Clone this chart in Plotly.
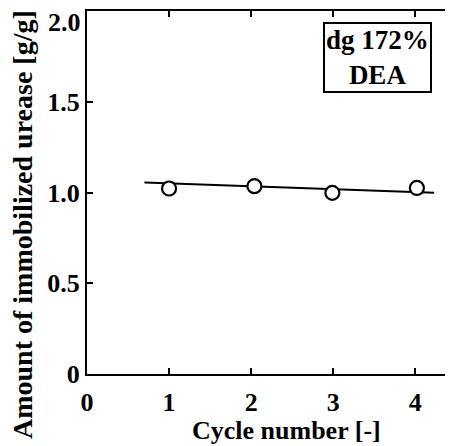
import plotly.graph_objects as go

cycle_x = [1.0, 2.04, 2.99, 4.02]
urease_y = [1.022, 1.035, 0.998, 1.025]
fit_x = [0.7, 4.23]
fit_y = [1.055, 0.998]
x_ticks = [0, 1, 2, 3, 4]
y_ticks = [0, 0.5, 1.0, 1.5, 2.0]
y_tick_labels = ["0", "0.5", "1.0", "1.5", "2.0"]

FONT = "Liberation Serif"
OFF = 8  # page body margin offset

# plot area in page pixels
PX0, PX1, PY0, PY1 = 87, 453, 11, 374
W, H = 453, 446


def paper_x(X):
    return (X - PX0) / (PX1 - PX0)


def paper_y(Y):
    return (PY1 - Y) / (PY1 - PY0)


fig = go.Figure()
fig.add_trace(go.Scatter(x=fit_x, y=fit_y, mode="lines",
                         line=dict(color="black", width=2), showlegend=False))
fig.add_trace(go.Scatter(x=cycle_x, y=urease_y, mode="markers",
                         marker=dict(symbol="circle", size=14, color="white",
                                     line=dict(color="black", width=2.2)),
                         showlegend=False))

tickfont = dict(family=FONT, size=26, color="black", weight="bold")

# the top label sits just below the frame in the reference
axis_labels = y_tick_labels[:-1] + [""]

fig.update_layout(
    width=W, height=H,
    margin=dict(l=PX0 - OFF, r=W - (PX1 - OFF), t=PY0 - OFF, b=H - (PY1 - OFF)),
    paper_bgcolor="white", plot_bgcolor="white",
    font=dict(family=FONT, color="black", size=26),
    xaxis=dict(range=[0, 4.46], tickvals=x_ticks, ticks="inside", ticklen=6,
               tickwidth=2, tickcolor="black", showline=True, linecolor="black",
               linewidth=2, mirror="ticks", showgrid=False, zeroline=False,
               tickfont=tickfont, ticklabelstandoff=4, ticklabeloverflow="allow",
               automargin=False),
    yaxis=dict(range=[0, 2.0], tickvals=y_ticks, ticktext=axis_labels,
               ticks="inside", ticklen=6, tickwidth=2, tickcolor="black",
               showline=True, linecolor="black", linewidth=2, mirror="ticks",
               showgrid=False, zeroline=False, tickfont=tickfont,
               ticklabelstandoff=0, ticklabeloverflow="allow", automargin=False),
    annotations=[
        dict(text="<b>" + y_tick_labels[-1] + "</b>", xref="paper", yref="y",
             x=0, y=y_ticks[-1], xanchor="right", yanchor="top", yshift=5,
             xshift=-4, showarrow=False, font=dict(family=FONT, size=26)),
        dict(text="<b>Cycle number [-]</b>", xref="paper", yref="paper",
             x=paper_x(286), y=paper_y(431), showarrow=False,
             font=dict(family=FONT, size=26), xanchor="center", yanchor="middle"),
        dict(text="<b>Amount of immobilized urease [g/g]</b>", xref="paper", yref="paper",
             x=paper_x(22), y=paper_y(225), showarrow=False, textangle=-90,
             font=dict(family=FONT, size=28), xanchor="center", yanchor="middle"),
        dict(text="<b>dg 172%<br>DEA</b>", xref="paper", yref="paper",
             x=paper_x(377), y=paper_y(58), showarrow=False,
             font=dict(family=FONT, size=27), xanchor="center", yanchor="middle",
             bordercolor="black", borderwidth=2, borderpad=1, bgcolor="white"),
    ],
)

fig.write_html("out.html")
